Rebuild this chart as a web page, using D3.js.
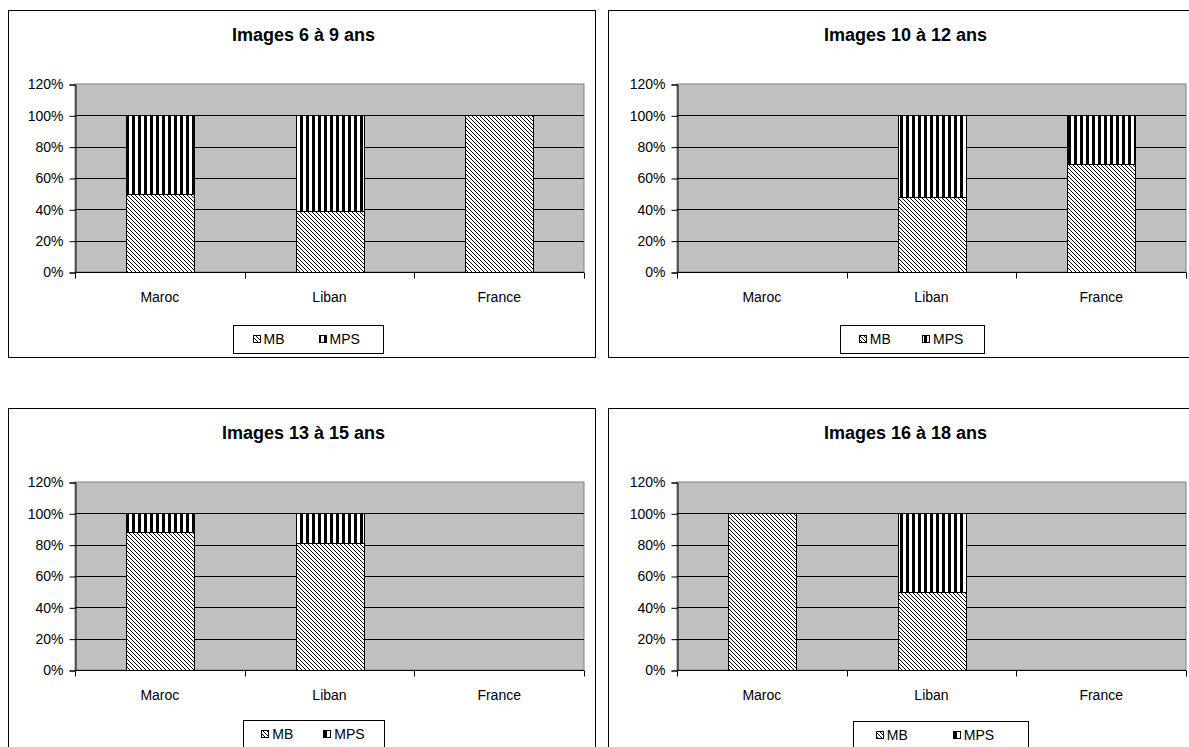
<!DOCTYPE html>
<html>
<head>
<meta charset="utf-8">
<script src="https://cdn.jsdelivr.net/npm/d3@7"></script>
<style>
  body { margin: 0; background: #fff; }
  svg { display: block; font-family: "Liberation Sans", Arial, sans-serif; }
</style>
</head>
<body>
<div id="chart"></div>
<script>
const countries = ["Maroc", "Liban", "France"];
const seriesNames = ["MB", "MPS"];
const panelTitles = ["Images 6 à 9 ans", "Images 10 à 12 ans", "Images 13 à 15 ans", "Images 16 à 18 ans"];
// share of each series per country, in percent
const mbValues = [
    [50, 39, 100],
    [0, 48, 69],
    [88, 81, 0],
    [100, 50, 0]
];
const mpsValues = [
    [50, 61, 0],
    [0, 52, 31],
    [12, 19, 0],
    [0, 50, 0]
];
const yTicks = [0, 20, 40, 60, 80, 100, 120];

// frame and plot layout per panel
const layout = [
    { frame: [8, 10, 587, 347], plot: [75, 584, 84, 272], legend: [233, 325, 150] },
    { frame: [608, 10, 620, 347], plot: [677, 1186, 84, 272], legend: [840, 325, 144] },
    { frame: [8, 408, 587, 400], plot: [75, 584, 482, 670], legend: [243, 720, 141] },
    { frame: [608, 408, 620, 400], plot: [677, 1186, 482, 670], legend: [853, 721, 175] }
];

const width = 1189, height = 747;

const svg = d3.select("#chart").append("svg")
    .attr("width", width)
    .attr("height", height);

const defs = svg.append("defs");

// MB: thin downward diagonal hatch
const mbPat = defs.append("pattern")
    .attr("id", "pat-mb")
    .attr("patternUnits", "userSpaceOnUse")
    .attr("width", 4).attr("height", 4);
mbPat.append("rect").attr("width", 4).attr("height", 4).attr("fill", "#fff");
mbPat.append("path")
    .attr("d", "M0,0L4,4M-1,3L1,5M3,-1L5,1")
    .attr("stroke", "#000").attr("stroke-width", 1);

// MPS: vertical stripes
const mpsPat = defs.append("pattern")
    .attr("id", "pat-mps")
    .attr("patternUnits", "userSpaceOnUse")
    .attr("width", 6).attr("height", 6);
mpsPat.append("rect").attr("width", 6).attr("height", 6).attr("fill", "#fff");
mpsPat.append("rect").attr("width", 3).attr("height", 6).attr("fill", "#000");

const fills = { MB: "url(#pat-mb)", MPS: "url(#pat-mps)" };

layout.forEach((L, i) => {
    const [fx, fy, fw, fh] = L.frame;
    const [x0, x1, yTop, yBottom] = L.plot;
    const g = svg.append("g");

    g.append("rect")
        .attr("x", fx + 0.5).attr("y", fy + 0.5)
        .attr("width", fw).attr("height", fh)
        .attr("fill", "#fff").attr("stroke", "#000").attr("stroke-width", 1);

    g.append("text")
        .attr("x", (x0 + x1) / 2 - 26)
        .attr("y", fy + 31)
        .attr("text-anchor", "middle")
        .attr("font-size", 18).attr("font-weight", "bold")
        .text(panelTitles[i]);

    const y = d3.scaleLinear().domain([0, 120]).range([yBottom, yTop]);
    const xCat = d3.scaleBand().domain(countries).range([x0, x1]);
    const x = d3.scaleBand().domain(countries).range([x0, x1])
        .paddingInner(0.6).paddingOuter(0.3);

    // plot area
    g.append("rect")
        .attr("x", x0).attr("y", y(120))
        .attr("width", x1 - x0).attr("height", y(0) - y(120))
        .attr("fill", "#c0c0c0").attr("stroke", "#808080").attr("stroke-width", 1);

    // gridlines
    g.selectAll(".grid")
        .data(yTicks.filter(t => t > 0 && t < 120))
        .enter().append("line")
        .attr("x1", x0).attr("x2", x1)
        .attr("y1", d => Math.round(y(d)) + 0.5).attr("y2", d => Math.round(y(d)) + 0.5)
        .attr("stroke", "#000").attr("stroke-width", 1);

    // stacked bars
    const rows = countries.map((c, j) => ({ country: c, MB: mbValues[i][j], MPS: mpsValues[i][j] }));
    const stacked = d3.stack().keys(seriesNames)(rows);
    stacked.forEach(s => {
        g.selectAll(null)
            .data(s.filter(d => d[1] - d[0] > 0))
            .enter().append("rect")
            .attr("x", d => Math.round(x(d.data.country)) + 0.5)
            .attr("y", d => Math.round(y(d[1])) + 0.5)
            .attr("width", Math.round(x.bandwidth()))
            .attr("height", d => Math.round(y(d[0])) - Math.round(y(d[1])))
            .attr("fill", fills[s.key])
            .attr("stroke", "#000").attr("stroke-width", 1);
    });

    // y axis
    const yAxis = d3.axisLeft(y).tickValues(yTicks).tickSize(6).tickPadding(6)
        .tickFormat(d => d + "%");
    const ya = g.append("g").attr("transform", `translate(${x0 + 0.5},0.5)`).call(yAxis);
    ya.select(".domain").attr("stroke", "#000");
    ya.selectAll("text").attr("font-size", 14).attr("font-family", "Liberation Sans, Arial").attr("fill", "#000");

    // x axis with ticks between categories
    const xa = g.append("g").attr("transform", `translate(0,${Math.round(yBottom) + 0.5})`);
    xa.append("line").attr("x1", x0).attr("x2", x1).attr("stroke", "#000");
    xa.selectAll(".xt")
        .data(countries.map(c => xCat(c)).concat([x1]))
        .enter().append("line")
        .attr("x1", d => Math.round(d) + 0.5).attr("x2", d => Math.round(d) + 0.5)
        .attr("y1", 0).attr("y2", 6)
        .attr("stroke", "#000");
    xa.selectAll(".xl")
        .data(countries)
        .enter().append("text")
        .attr("x", d => xCat(d) + xCat.bandwidth() / 2)
        .attr("y", 29)
        .attr("text-anchor", "middle")
        .attr("font-size", 14)
        .text(d => d);

    // legend
    const [lx, ly, lw] = L.legend;
    const lg = g.append("g");
    lg.append("rect")
        .attr("x", lx + 0.5).attr("y", ly + 0.5)
        .attr("width", lw).attr("height", 28)
        .attr("fill", "#fff").attr("stroke", "#000");
    seriesNames.forEach((s, k) => {
        const sx = lx + lw * (k === 0 ? 0.13 : 0.57);
        lg.append("rect")
            .attr("x", Math.round(sx) + 0.5).attr("y", ly + 10.5)
            .attr("width", 7).attr("height", 7)
            .attr("fill", fills[s]).attr("stroke", "#000");
        lg.append("text")
            .attr("x", sx + 11).attr("y", ly + 19)
            .attr("font-size", 14)
            .text(s);
    });
});
</script>
</body>
</html>
